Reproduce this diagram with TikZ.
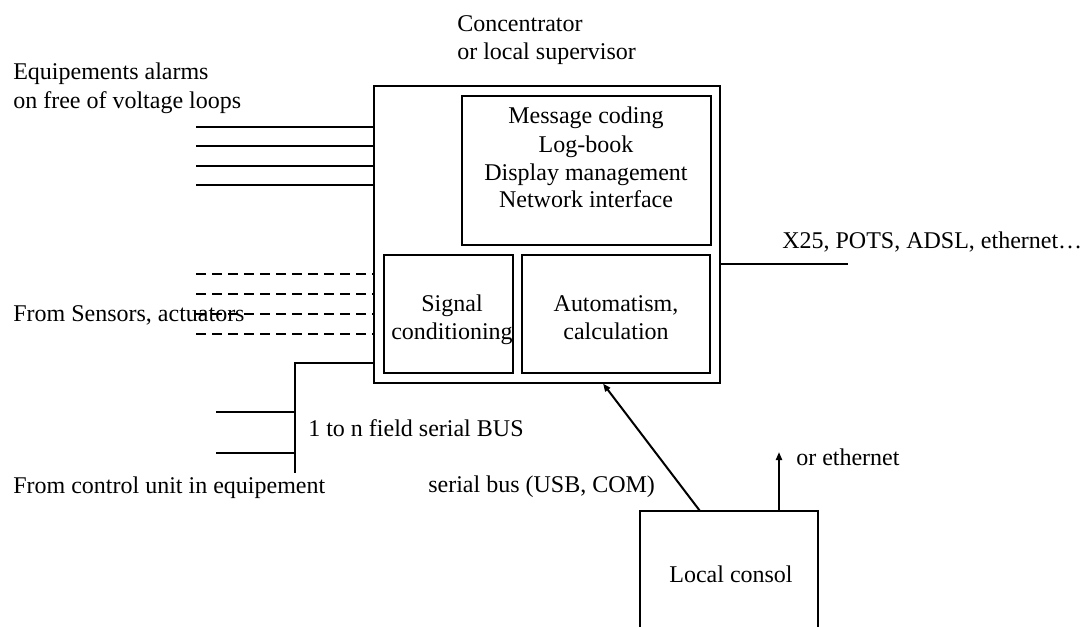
\documentclass[tikz,border=0pt]{standalone}
\usepackage{fontspec}
\setmainfont{Liberation Serif}
\usetikzlibrary{arrows.meta}
\begin{document}
\begin{tikzpicture}[x=0.75pt,y=-0.75pt,
  font=\fontsize{18}{21}\selectfont,
  box/.style={draw,line width=1.5pt,rectangle,inner sep=0pt},
  wire/.style={line width=1.5pt},
  dwire/.style={line width=1.5pt,dash pattern=on 7.5pt off 4.5pt},
  arr/.style={line width=1.5pt,-{Triangle[length=6pt,width=4.5pt]}},
  lbl/.style={inner sep=0pt,anchor=base west},
  clbl/.style={inner sep=0pt,anchor=base}]
\useasboundingbox (0,0) rectangle (1083,626);

% boxes
\node[box,minimum width=259.5pt,minimum height=222.75pt] (outer) at (547,234.5) {};
\node[box,minimum width=186.75pt,minimum height=111.75pt] (top) at (586.5,170.5) {};
\node[box,minimum width=96.75pt,minimum height=88.5pt] (sig) at (448.5,314) {};
\node[box,minimum width=141pt,minimum height=88.5pt] (aut) at (616,314) {};

% inner texts
\node[clbl] (t1) at (586,123) {Message coding};
\node[clbl] (t2) at (586,152) {Log-book};
\node[clbl] (t3) at (586,180) {Display management};
\node[clbl] (t4) at (586,207) {Network interface};
\node[clbl] (s1) at (452,311) {Signal};
\node[clbl] (s2) at (452,339) {conditioning};
\node[clbl] (u1) at (616,311) {Automatism,};
\node[clbl] (u2) at (616,339) {calculation};

% labels
\node[lbl] (conc1) at (457,31) {Concentrator};
\node[lbl] (conc2) at (457,59) {or local supervisor};
\node[lbl] (eq1) at (13,79) {Equipements alarms};
\node[lbl] (eq2) at (13,108) {on free of voltage loops};
\node[lbl] (sens) at (13,321) {From Sensors, actuators};
\node[lbl] (busl) at (308,436) {1 to n field serial BUS};
\node[lbl] (ctrl) at (13,493) {From control unit in equipement};
\node[lbl] (ser) at (428,492) {serial bus (USB, COM)};
\node[lbl] (eth) at (796,465) {or ethernet};
\node[lbl] (x25) at (782,248) {X25, POTS, ADSL, ethernet…};

% alarm lines
\foreach \y [count=\i] in {127,146,166,185}{
  \coordinate (a\i) at (196,\y);
  \draw[wire] (a\i) -- (a\i -| outer.west);
}
% sensor lines
\foreach \y [count=\i] in {274,294,314,334}{
  \coordinate (d\i) at (196,\y);
  \draw[dwire] (d\i) -- (d\i -| outer.west);
}
% field bus
\coordinate (bt) at (295,363);
\coordinate (bb) at (295,473);
\draw[wire] (bt -| outer.west) -- (bt) -- (bb);
\coordinate (st1) at (216,412);
\coordinate (st2) at (216,453);
\draw[wire] (st1) -- (st1 -| bt);
\draw[wire] (st2) -- (st2 -| bt);

% network line
\coordinate (nw) at (848,264);
\draw[wire] (nw -| outer.east) -- (nw);

% local consol
\coordinate (lcbl) at (640,628);
\coordinate (lctl) at (640,511);
\coordinate (lctr) at (818,511);
\coordinate (lcbr) at (818,628);
\draw[wire] (lcbl) -- (lctl) -- (lctr) -- (lcbr);
\node[clbl] (lc) at (731,582) {Local consol};

\coordinate (serA) at (700,511);
\coordinate (serB) at (603,383.5);
\draw[arr] (serA) -- (serB);
\coordinate (ethA) at (779,511);
\coordinate (ethB) at (779,452);
\draw[arr] (ethA) -- (ethB);
\end{tikzpicture}
\end{document}
